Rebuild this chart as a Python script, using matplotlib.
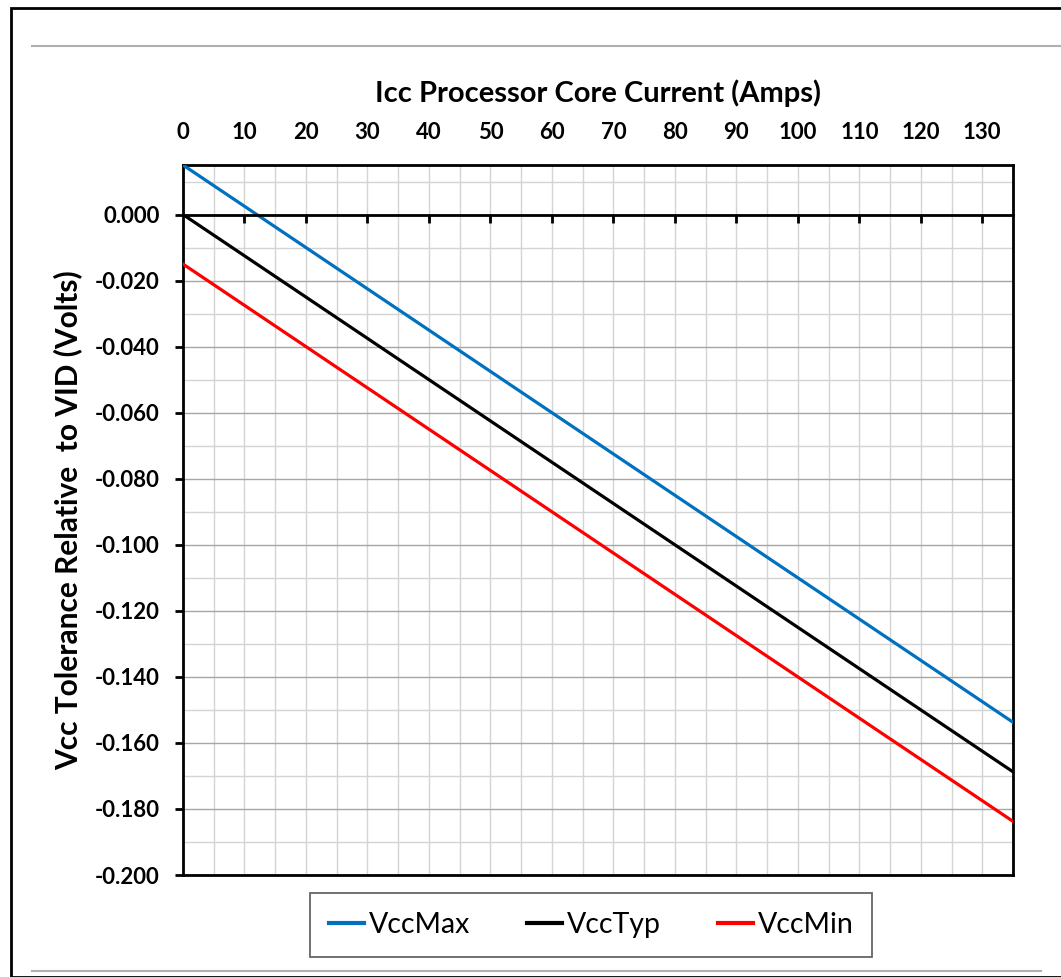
import matplotlib
matplotlib.use("Agg")
import matplotlib.pyplot as plt
from matplotlib.lines import Line2D
from matplotlib.patches import Rectangle
from matplotlib.ticker import MultipleLocator, FormatStrFormatter

# load line data (Amps vs Volts relative to VID)
icc = [0, 135]
vcc_max = [0.015, -0.15375]
vcc_typ = [0.0, -0.16875]
vcc_min = [-0.015, -0.18375]
series_names = ["VccMax", "VccTyp", "VccMin"]
series_colors = ["#0070c0", "#000000", "#ff0000"]

x_label = "Icc Processor Core Current (Amps)"
y_label = "Vcc Tolerance Relative  to VID (Volts)"

plt.rcParams["font.family"] = ["Lato", "DejaVu Sans"]

W, H = 1061, 977
fig = plt.figure(figsize=(W / 100, H / 100), dpi=100)
ax = fig.add_axes([183 / W, 1 - 875 / H, (1013 - 183) / W, (875 - 165) / H])

for ys, name, color in zip([vcc_max, vcc_typ, vcc_min], series_names, series_colors):
    ax.plot(icc, ys, color=color, lw=2.3, label=name, zorder=3)

ax.set_xlim(0, 135)
ax.set_ylim(-0.2, 0.015)

# zero line with tick marks hanging below it
zax = ax.twiny()
zax.set_xlim(ax.get_xlim())
zax.patch.set_visible(False)
for side in ["top", "left", "right"]:
    zax.spines[side].set_visible(False)
zax.spines["bottom"].set_position(("data", 0))
zax.spines["bottom"].set_linewidth(2)
zax.xaxis.set_ticks_position("bottom")
zax.set_xticks(list(range(10, 135, 10)))
zax.tick_params(axis="x", direction="out", length=6, width=2, labelbottom=False, labeltop=False)

# grid
ax.xaxis.set_major_locator(MultipleLocator(10))
ax.xaxis.set_minor_locator(MultipleLocator(5))
ax.yaxis.set_major_locator(MultipleLocator(0.02))
ax.yaxis.set_minor_locator(MultipleLocator(0.01))
ax.yaxis.set_major_formatter(FormatStrFormatter("%.3f"))
ax.grid(which="minor", axis="both", color="#d4d4d4", lw=1.0)
ax.grid(which="major", axis="x", color="#d4d4d4", lw=1.0)
ax.grid(which="major", axis="y", color="#a6a6a6", lw=1.0)
ax.set_axisbelow(True)

# x labels on top, no marks there
ax.xaxis.tick_top()
ax.xaxis.set_label_position("top")
ax.tick_params(axis="x", which="both", length=0, pad=16, labelsize=16, labeltop=True, labelbottom=False)
ax.tick_params(axis="y", which="major", direction="out", length=6, width=2, pad=11, labelsize=16)
ax.tick_params(axis="y", which="minor", length=0)
for lab in ax.get_xticklabels() + ax.get_yticklabels():
    lab.set_fontweight("bold")
ax.set_xlabel(x_label, fontsize=21, fontweight="bold", labelpad=14)
ax.set_ylabel(y_label, fontsize=21.5, fontweight="bold", labelpad=9)

for sp in ax.spines.values():
    sp.set_color("black")
    sp.set_linewidth(2)

# legend
leg = fig.legend(loc="center", bbox_to_anchor=(591 / W, 1 - 925 / H), ncol=3,
                 frameon=True, fancybox=False, fontsize=20.5, handlelength=1.25,
                 handletextpad=0.15, columnspacing=2.0, borderpad=0.65, borderaxespad=0)
leg.get_frame().set_edgecolor("#404040")
leg.get_frame().set_linewidth(1.3)
for h in leg.get_lines():
    h.set_linewidth(3)

# outer frame and separator lines
fig.add_artist(Rectangle((11 / W, 0), 1.2, 1 - 8 / H, transform=fig.transFigure,
                         fill=False, edgecolor="black", lw=2))
fig.add_artist(Line2D([32 / W, 1], [1 - 46 / H, 1 - 46 / H], transform=fig.transFigure,
                      color="#b0b0b0", lw=1.5))
fig.add_artist(Line2D([32 / W, 1041 / W], [1 - 971 / H, 1 - 971 / H], transform=fig.transFigure,
                      color="#b0b0b0", lw=1.5))

fig.savefig("out.png", dpi=100)
